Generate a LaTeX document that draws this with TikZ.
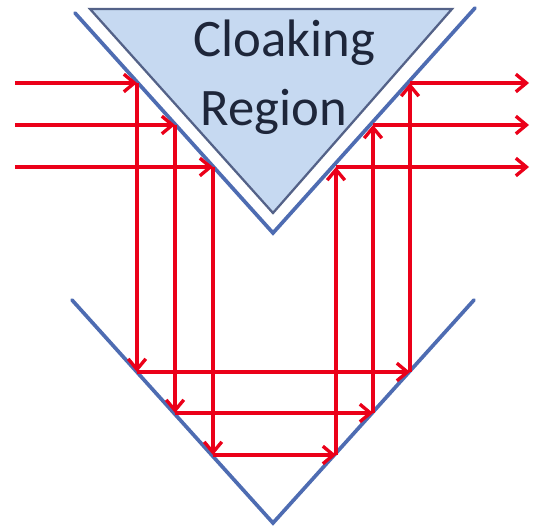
\documentclass[tikz,border=0pt]{standalone}
\usepackage{fontspec}
\setmainfont{Carlito}
\usetikzlibrary{arrows.meta}

\definecolor{raycol}{RGB}{235,0,25}
\definecolor{mirrorblue}{RGB}{78,108,178}
\definecolor{edgeblue}{RGB}{84,98,136}
\definecolor{cloakfill}{RGB}{198,217,241}
\definecolor{textnavy}{RGB}{30,38,58}

\begin{document}
\begin{tikzpicture}[x=0.02cm,y=-0.02cm,
  ray/.style={draw=raycol,line width=1.9pt,-{Straight Barb[length=6pt,width=10pt]}},
  mirror/.style={draw=mirrorblue,line width=2.1pt,line cap=round,line join=miter},
  region text/.style={font=\fontsize{30}{36}\selectfont,text=textnavy,anchor=base}]

  \useasboundingbox (0,0) rectangle (535,527);

  % Cloaking region
  \coordinate (tl) at (90,9);
  \coordinate (tr) at (452,9);
  \coordinate (tb) at (273,213);
  \draw[fill=cloakfill,draw=edgeblue,line width=1.3pt,line join=miter] (tl) -- (tr) -- (tb) -- cycle;
  \node[region text] (cloak) at (284,57) {Cloaking};
  \node[region text] (region) at (274,126) {Region};

  % Mirrors
  \coordinate (ul) at (75,13);
  \coordinate (ua) at (273,233);
  \coordinate (ur) at (475,8);
  \coordinate (ll) at (72,300);
  \coordinate (la) at (273,523);
  \coordinate (lr) at (474,300);
  \draw[mirror] (ul) -- (ua) -- (ur);
  \draw[mirror] (ll) -- (la) -- (lr);

  % Ray points
  \coordinate (in1) at (15,83);   \coordinate (out1) at (529,83);
  \coordinate (in2) at (15,125);  \coordinate (out2) at (529,125);
  \coordinate (in3) at (15,167);  \coordinate (out3) at (529,167);
  \coordinate (a1) at (137,83);   \coordinate (b1) at (137,372);
  \coordinate (a2) at (175,125);  \coordinate (b2) at (175,413);
  \coordinate (a3) at (213,167);  \coordinate (b3) at (213,455);
  \coordinate (c1) at (410,372);  \coordinate (d1) at (410,83);
  \coordinate (c2) at (373,413);  \coordinate (d2) at (373,125);
  \coordinate (c3) at (336,455);  \coordinate (d3) at (336,167);

  % Outer ray
  \draw[ray] (in1) -- (a1);
  \draw[ray] (a1) -- (b1);
  \draw[ray] (b1) -- (c1);
  \draw[ray] (c1) -- (d1);
  \draw[ray] (d1) -- (out1);

  % Middle ray
  \draw[ray] (in2) -- (a2);
  \draw[ray] (a2) -- (b2);
  \draw[ray] (b2) -- (c2);
  \draw[ray] (c2) -- (d2);
  \draw[ray] (d2) -- (out2);

  % Inner ray
  \draw[ray] (in3) -- (a3);
  \draw[ray] (a3) -- (b3);
  \draw[ray] (b3) -- (c3);
  \draw[ray] (c3) -- (d3);
  \draw[ray] (d3) -- (out3);

\end{tikzpicture}
\end{document}
